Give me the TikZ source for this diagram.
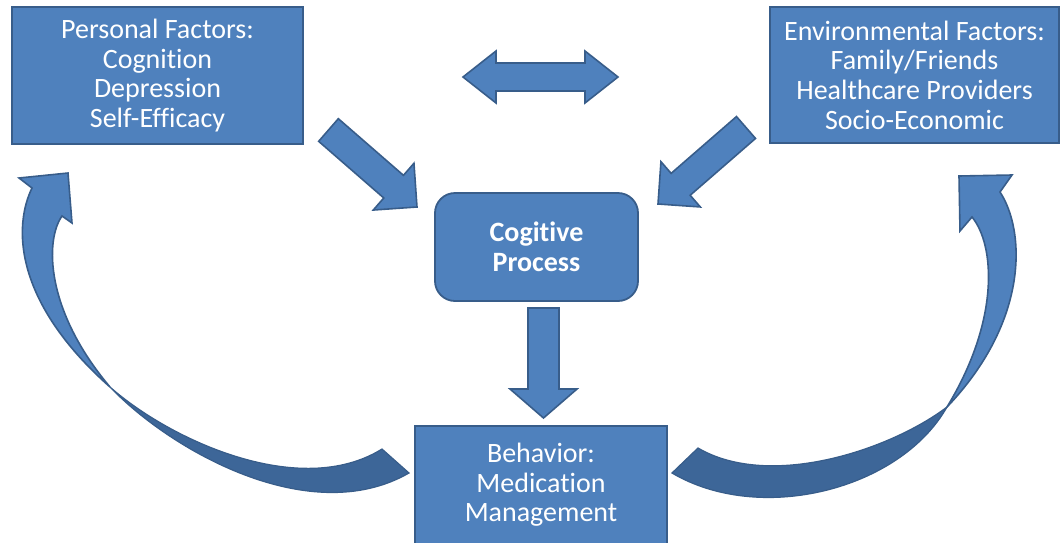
\documentclass[tikz,border=0pt]{standalone}
\usepackage{fontspec}
\setmainfont{Carlito}[Ligatures=NoCommon]
\usetikzlibrary{calc}

\definecolor{boxblue}{HTML}{4F81BD}
\definecolor{boxedge}{HTML}{385D8A}
\definecolor{backblue}{HTML}{3D6698}

\tikzset{
  factorbox/.style={draw=boxedge, line width=0.9pt, fill=boxblue, text=white,
    inner sep=0pt, align=center, font=\fontsize{14}{14.8}\selectfont},
  arrowshape/.style={draw=boxedge, line width=0.8pt, fill=boxblue, line join=miter},
  ribbonback/.style={draw=boxedge, line width=0.6pt, fill=backblue},
  ribbonfront/.style={draw=boxedge, line width=0.8pt, fill=boxblue},
}

% block arrow: tail, tip, shaft half-width, head half-width, head length
\newcommand{\blockarrow}[5]{%
  \coordinate (ba-h) at ($(#2)!#5!(#1)$);
  \draw[arrowshape] ($(#1)!#3!90:(#2)$) -- ($(ba-h)!#3!-90:(#1)$)
    -- ($(ba-h)!#4!-90:(#1)$) -- (#2) -- ($(ba-h)!#4!90:(#1)$)
    -- ($(ba-h)!#3!90:(#1)$) -- ($(#1)!#3!-90:(#2)$) -- cycle;
}
% two-headed block arrow: tip, tip, shaft half-width, head half-width, head length
\newcommand{\twowayarrow}[5]{%
  \coordinate (tw-a) at ($(#1)!#5!(#2)$);
  \coordinate (tw-b) at ($(#2)!#5!(#1)$);
  \draw[arrowshape] (#1) -- ($(tw-a)!#4!90:(#2)$) -- ($(tw-a)!#3!90:(#2)$)
    -- ($(tw-b)!#3!-90:(#1)$) -- ($(tw-b)!#4!-90:(#1)$) -- (#2)
    -- ($(tw-b)!#4!90:(#1)$) -- ($(tw-b)!#3!90:(#1)$)
    -- ($(tw-a)!#3!-90:(#2)$) -- ($(tw-a)!#4!-90:(#2)$) -- cycle;
}

\begin{document}
\begin{tikzpicture}[x=0.5pt, y=-0.5pt]
\useasboundingbox (0,0) rectangle (1062,542);

% boxes
\node[factorbox, minimum width=145.5pt, minimum height=68.5pt] (personal) at (157.5,75.5)
  {Personal Factors:\\Cognition\\Depression\\Self-Efficacy};
\node[factorbox, minimum width=144.5pt, minimum height=68pt] (environment) at (914.5,75)
  {Environmental Factors:\\Family/Friends\\Healthcare Providers\\Socio-Economic};
\node[factorbox, rounded corners=10pt, minimum width=101.5pt, minimum height=54pt,
  font=\fontsize{14}{14.8}\selectfont\bfseries] (process) at (536.5,247)
  {Cogitive\\Process};
\node[factorbox, minimum width=126pt, minimum height=59pt] (behavior) at (541,485)
  {Behavior:\\Medication\\Management};

% arrow end points
\coordinate (mutual-l) at (463,77);
\coordinate (mutual-r) at (618,77);
\coordinate (pers-tail) at (328.5,130);
\coordinate (pers-tip) at (417,207);
\coordinate (env-tail) at (746,127.5);
\coordinate (env-tip) at (658,204);
\coordinate (proc-tail) at (543.5,308);
\coordinate (proc-tip) at (543.5,418);

% straight block arrows
\twowayarrow{mutual-l}{mutual-r}{7pt}{13pt}{16.5pt}
\blockarrow{pers-tail}{pers-tip}{7.5pt}{15.5pt}{15.5pt}
\blockarrow{env-tail}{env-tip}{7.25pt}{15pt}{15pt}
\blockarrow{proc-tail}{proc-tip}{7.75pt}{16.75pt}{14.5pt}

% curved feedback arrow: behaviour back to personal factors
\draw[ribbonback] (110,387) .. controls (170,450) and (310,530) .. (409,473)
  -- (382,449) .. controls (300,500) and (170,440) .. (110,387) -- cycle;
\draw[ribbonfront, line join=miter] (32,188) -- (19,178) -- (68,173) -- (72,223) -- (62,216)
  .. controls (45,240) and (45,310) .. (110,387)
  .. controls (12,300) and (14,225) .. (32,188) -- cycle;

% curved feedback arrow: behaviour back to environmental factors
\draw[ribbonback] (947,407) .. controls (900,490) and (760,525) .. (672,473)
  -- (698,448) .. controls (770,490) and (890,450) .. (947,407) -- cycle;
\draw[ribbonfront, line join=miter] (1000,192) -- (1012,175) -- (959,176) -- (960,231) -- (972,217)
  .. controls (995,245) and (1000,320) .. (947,407)
  .. controls (1030,320) and (1025,230) .. (1000,192) -- cycle;
\end{tikzpicture}
\end{document}
